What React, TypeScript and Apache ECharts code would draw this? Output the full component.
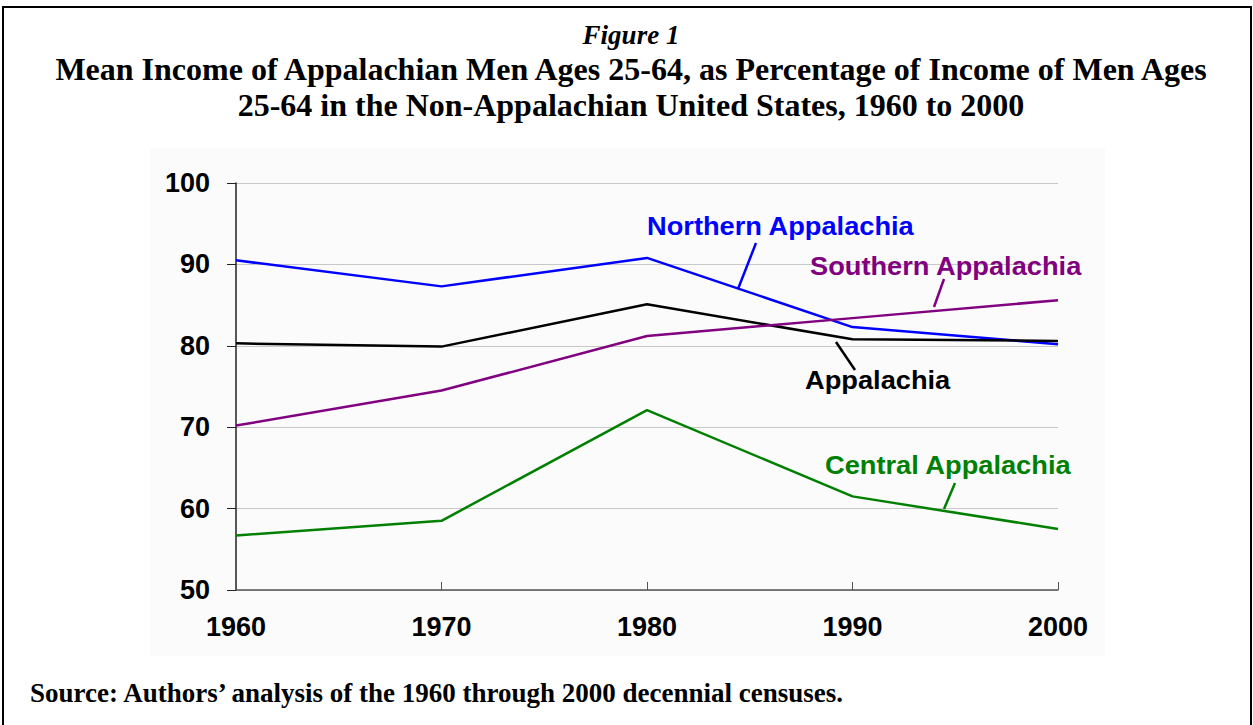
import React, { useEffect, useRef } from "react";
import * as echarts from "echarts";

const years = ["1960", "1970", "1980", "1990", "2000"];
const northern = [90.5, 87.3, 90.8, 82.3, 80.2];
const appalachia = [80.3, 79.9, 85.1, 80.8, 80.6];
const southern = [70.2, 74.5, 81.2, 83.4, 85.6];
const central = [56.7, 58.5, 72.1, 61.5, 57.5];

const figureLabel = "Figure 1";
const titleLine1 = "Mean Income of Appalachian Men Ages 25-64, as Percentage of Income of Men Ages";
const titleLine2 = "25-64 in the Non-Appalachian United States, 1960 to 2000";
const sourceText = "Source: Authors\u2019 analysis of the 1960 through 2000 decennial censuses.";

const BLUE = "#0000FF";
const BLACK = "#000000";
const PURPLE = "#800080";
const GREEN = "#008000";

export default function App() {
  const ref = useRef<HTMLDivElement>(null);
  useEffect(() => {
    if (!ref.current) return;
    const chart = echarts.init(ref.current, undefined, { renderer: "svg" });
    const serif = "'Liberation Serif', 'Times New Roman', serif";
    const sans = "'Liberation Sans', Arial, sans-serif";
    const lbl = (text: string, x: number, y: number, color: string) => ({
      type: "text",
      x,
      y,
      scaleX: 1.09,
      style: { text, x: 0, y: 0, fill: color, font: `bold 25px ${sans}`, textAlign: "left", textVerticalAlign: "middle" },
      z: 10,
    });
    const leader = (x1: number, y1: number, x2: number, y2: number, color: string) => ({
      type: "line",
      shape: { x1, y1, x2, y2 },
      style: { stroke: color, lineWidth: 2.5 },
      z: 10,
    });
    const mkSeries = (name: string, data: number[], color: string) => ({
      name,
      type: "line",
      data,
      symbol: "none",
      lineStyle: { color, width: 2.5 },
      itemStyle: { color },
      z: 5,
    });
    chart.setOption({
      animation: false,
      backgroundColor: "#ffffff",
      grid: { left: 236, right: 195, top: 183, bottom: 135, containLabel: false },
      xAxis: {
        type: "category",
        data: years,
        boundaryGap: false,
        axisLine: { lineStyle: { color: "#555555", width: 1.5 } },
        axisTick: { show: true, inside: true, length: 8, alignWithLabel: true, lineStyle: { color: "#555555" } },
        axisLabel: { color: "#000", fontSize: 27, fontWeight: "bold", fontFamily: sans, margin: 23 },
        splitLine: { show: false },
      },
      yAxis: {
        type: "value",
        min: 50,
        max: 100,
        interval: 10,
        axisLine: { show: true, lineStyle: { color: "#222222", width: 1.5 } },
        axisTick: { show: true, inside: false, length: 9, lineStyle: { color: "#222222" } },
        axisLabel: { color: "#000", fontSize: 27, fontWeight: "bold", fontFamily: sans, margin: 26 },
        splitLine: { show: true, lineStyle: { color: "#c8c8c8", width: 1 } },
      },
      series: [
        mkSeries("Northern Appalachia", northern, BLUE),
        mkSeries("Appalachia", appalachia, BLACK),
        mkSeries("Southern Appalachia", southern, PURPLE),
        mkSeries("Central Appalachia", central, GREEN),
      ],
      graphic: [
        {
          type: "rect",
          shape: { x: 3, y: 7, width: 1248, height: 740 },
          style: { fill: "none", stroke: "#000", lineWidth: 2 },
          z: -10,
          silent: true,
        },
        {
          type: "rect",
          shape: { x: 150, y: 148, width: 955, height: 508 },
          style: { fill: "#fbfbfb", stroke: "none" },
          z: -20,
          silent: true,
        },
        {
          type: "text",
          x: 631,
          y: 35,
          style: { text: figureLabel, fill: "#000", font: `italic bold 27px ${serif}`, textAlign: "center", textVerticalAlign: "middle" },
        },
        {
          type: "text",
          x: 631,
          y: 69,
          style: { text: titleLine1, fill: "#000", font: `bold 32px ${serif}`, textAlign: "center", textVerticalAlign: "middle" },
        },
        {
          type: "text",
          x: 631,
          y: 105,
          style: { text: titleLine2, fill: "#000", font: `bold 32px ${serif}`, textAlign: "center", textVerticalAlign: "middle" },
        },
        {
          type: "text",
          x: 30,
          y: 693,
          style: { text: sourceText, fill: "#000", font: `bold 27px ${serif}`, textAlign: "left", textVerticalAlign: "middle" },
        },
        lbl("Northern Appalachia", 647, 226, BLUE),
        leader(756, 243, 738, 289, BLUE),
        lbl("Southern Appalachia", 810, 266, PURPLE),
        leader(944, 279, 934, 307, PURPLE),
        lbl("Appalachia", 805, 380, BLACK),
        leader(836, 342, 855, 370, BLACK),
        lbl("Central Appalachia", 825, 465, GREEN),
        leader(955, 483, 944, 509, GREEN),
      ],
    });
    return () => chart.dispose();
  }, []);
  return <div ref={ref} style={{ position: "fixed", left: 0, top: 0, width: 1253, height: 725 }} />;
}
